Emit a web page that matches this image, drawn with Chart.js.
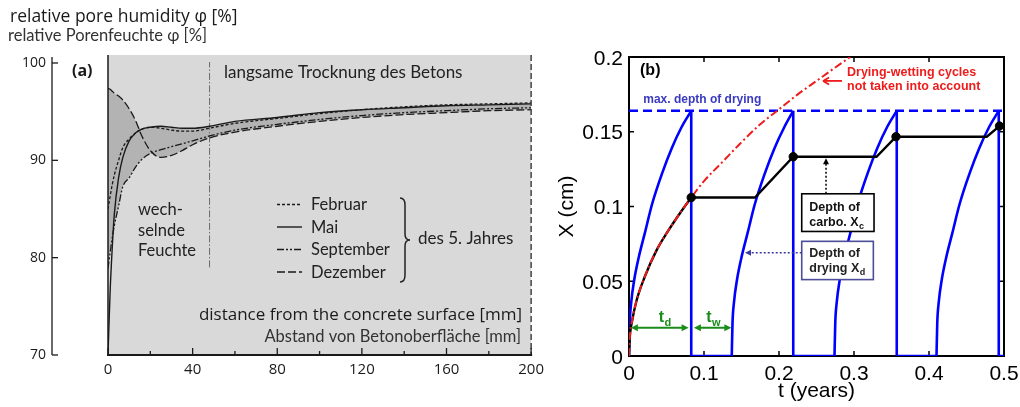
<!DOCTYPE html>
<html lang="de">
<head>
<meta charset="utf-8">
<title>Porenfeuchte / Carbonation depth</title>
<script src="https://cdn.jsdelivr.net/npm/chart.js@4.4.1/dist/chart.umd.min.js"></script>
<style>
  html, body { margin: 0; padding: 0; background: #fff; }
  #wrap { position: relative; width: 1020px; height: 407px; overflow: hidden; }
  .panel { position: absolute; top: 0; height: 407px; }
  #panelA { left: 0; width: 550px; }
  #panelB { left: 550px; width: 470px; }
</style>
</head>
<body>
<div id="wrap">
  <div class="panel" id="panelA"><canvas id="humidity"></canvas></div>
  <div class="panel" id="panelB"><canvas id="carbo"></canvas></div>
</div>
<script>
(function () {
  "use strict";

  // ---- panel (a): pore humidity profiles, 5th year -----------------------
  var depthMm      = [0, 1, 2, 3, 5, 7, 10, 13, 16, 20, 25, 30, 35, 40, 48, 60, 80, 100, 120, 140, 160, 180, 200];
  var phiFebruar   = [85.0, 86.3, 87.5, 88.5, 90.0, 91.3, 92.2, 92.8, 93.2, 93.4, 93.3, 93.1, 93.0, 93.0, 93.3, 93.8, 94.3, 94.8, 95.2, 95.5, 95.7, 95.8, 95.9];
  var phiMai       = [70.0, 76.5, 81.0, 84.5, 88.2, 90.3, 92.0, 92.8, 93.2, 93.4, 93.5, 93.4, 93.3, 93.3, 93.5, 94.0, 94.4, 94.9, 95.2, 95.4, 95.6, 95.7, 95.8];
  var phiSeptember = [78.9, 80.5, 82.0, 83.3, 85.3, 87.3, 88.2, 89.3, 90.1, 90.7, 91.1, 91.4, 91.7, 92.0, 92.5, 93.1, 93.7, 94.2, 94.6, 94.9, 95.1, 95.3, 95.4];
  var phiDezember  = [97.4, 97.3, 97.1, 96.9, 96.6, 96.2, 95.3, 94.1, 92.5, 91.0, 90.3, 90.5, 91.0, 91.6, 92.3, 92.9, 93.5, 94.0, 94.4, 94.7, 94.9, 95.1, 95.2];

  var monthNames  = ["Februar", "Mai", "September", "Dezember"];
  var phiTicks    = [70, 80, 90, 100];
  var depthTicks  = [0, 20, 40, 60, 80, 100, 120, 140, 160, 180, 200];
  var depthLabels = [0, 40, 80, 120, 160, 200];
  var dividerDepth = [48, 48];
  var dividerPhi   = [79, 100.1];

  // ---- panel (b): depth of drying / depth of carbonation -----------------
  var dryX  = [0, 0.022, 0.036, 0.051, 0.066, 0.082, 0.102, 0.122, 0.139, 0.153, 0.164];
  var dryT1 = [0, 0.001, 0.003, 0.007, 0.013, 0.021, 0.031, 0.044, 0.057, 0.070, 0.083];
  var dryT2 = [0.137, 0.138, 0.140, 0.144, 0.150, 0.158, 0.168, 0.181, 0.194, 0.207, 0.219];
  var dryT3 = [0.274, 0.275, 0.277, 0.281, 0.287, 0.295, 0.305, 0.318, 0.331, 0.344, 0.357];
  var dryT4 = [0.410, 0.411, 0.413, 0.417, 0.423, 0.431, 0.441, 0.454, 0.467, 0.480, 0.493];
  var dryEnd   = [0.083, 0.219, 0.357, 0.493];
  var wetEnd   = [0.137, 0.274, 0.410, 0.5];
  var maxDepth = 0.164;

  var redT = [0, 0.001, 0.004, 0.010, 0.021, 0.037, 0.050, 0.070, 0.083, 0.100, 0.125, 0.150, 0.175, 0.200, 0.225, 0.250, 0.275, 0.295];
  var redX = [0, 0.012, 0.023, 0.037, 0.053, 0.071, 0.082, 0.097, 0.106, 0.117, 0.130, 0.143, 0.155, 0.165, 0.175, 0.184, 0.193, 0.200];

  var carboT = [0, 0.001, 0.004, 0.010, 0.021, 0.037, 0.050, 0.070, 0.083];
  var carboX = [0, 0.012, 0.023, 0.037, 0.053, 0.071, 0.082, 0.097, 0.106];
  var stepT  = [0.083, 0.168, 0.219, 0.330, 0.356, 0.477, 0.494, 0.500];
  var stepX  = [0.106, 0.106, 0.1333, 0.1333, 0.1467, 0.1467, 0.1538, 0.1525];
  var dotT   = [0.083, 0.219, 0.356, 0.494];
  var dotX   = [0.106, 0.1333, 0.1467, 0.1538];

  var tTicks = [0, 0.1, 0.2, 0.3, 0.4, 0.5];
  var xTicks = [0, 0.05, 0.1, 0.15, 0.2];

  // ---- shared bits -------------------------------------------------------
  var INK = "#1a1a1a";
  var SANS = '"Open Sans", "DejaVu Sans", sans-serif';
  var TEX = 'Lato, "Open Sans", sans-serif';
  var ARIAL = '"Liberation Sans", Arial, sans-serif';
  var BLUE = "#0000ff";
  var RED = "#ee1c1c";
  var GREEN = "#1a8c1a";

  var monthStyle = {
    Februar:   { dash: [3, 2], width: 1.3 },
    Mai:       { dash: [], width: 1.4 },
    September: { dash: [7, 2, 2, 2, 2, 2], width: 1.3 },
    Dezember:  { dash: [8, 3], width: 1.3 }
  };

  function pts(xs, ys) {
    return xs.map(function (x, i) { return { x: x, y: ys[i] }; });
  }

  function say(ctx, str, x, y, font, color, align, baseline) {
    ctx.font = font;
    ctx.fillStyle = color || INK;
    ctx.textAlign = align || "left";
    ctx.textBaseline = baseline || "alphabetic";
    ctx.fillText(str, x, y);
  }

  function sayWithSub(ctx, main, sub, x, y, size, color, bold) {
    var w = bold ? "bold " : "";
    say(ctx, main, x, y, w + size + "px " + ARIAL, color, "left", "alphabetic");
    var mw = ctx.measureText(main).width;
    say(ctx, sub, x + mw + 0.5, y + size * 0.25, w + Math.round(size * 0.68) + "px " + ARIAL, color, "left", "alphabetic");
  }

  function seg(ctx, x1, y1, x2, y2) {
    ctx.beginPath();
    ctx.moveTo(x1, y1);
    ctx.lineTo(x2, y2);
    ctx.stroke();
  }

  // filled arrow head with its tip at (x, y), pointing along (dx, dy)
  function head(ctx, x, y, dx, dy, size) {
    var len = Math.sqrt(dx * dx + dy * dy);
    dx /= len; dy /= len;
    var nx = -dy, ny = dx;
    ctx.beginPath();
    ctx.moveTo(x, y);
    ctx.lineTo(x - dx * size + nx * size * 0.5, y - dy * size + ny * size * 0.5);
    ctx.lineTo(x - dx * size - nx * size * 0.5, y - dy * size - ny * size * 0.5);
    ctx.closePath();
    ctx.fill();
  }

  var quiet = {
    legend: { display: false },
    tooltip: { enabled: false }
  };

  // ---- panel (a) ---------------------------------------------------------
  var upperEnv = depthMm.map(function (d, i) {
    return { x: d, y: Math.max(phiFebruar[i], phiMai[i], phiDezember[i]) };
  });
  var lowerEnv = depthMm.map(function (d, i) {
    return { x: d, y: Math.min(phiSeptember[i], phiDezember[i]) };
  });
  var monthValues = [phiFebruar, phiMai, phiSeptember, phiDezember];

  var dsA = [
    { data: lowerEnv, borderColor: "rgba(0,0,0,0)", borderWidth: 0, pointRadius: 0,
      fill: false, order: 10, cubicInterpolationMode: "monotone" },
    { data: upperEnv, borderColor: "rgba(0,0,0,0)", borderWidth: 0, pointRadius: 0,
      fill: "-1", backgroundColor: "#b3b3b3", order: 9, cubicInterpolationMode: "monotone" },
    { data: pts(dividerDepth, dividerPhi), borderColor: "#6a6a6a", borderWidth: 1,
      borderDash: [7, 2, 1.5, 2], pointRadius: 0, fill: false, order: 8 }
  ];
  monthNames.forEach(function (m, i) {
    dsA.push({
      label: m,
      data: pts(depthMm, monthValues[i]),
      borderColor: INK,
      borderWidth: monthStyle[m].width,
      borderDash: monthStyle[m].dash,
      pointRadius: 0,
      fill: false,
      cubicInterpolationMode: "monotone",
      order: 4 - i
    });
  });

  var humidityDecor = {
    id: "humidityDecor",
    beforeDraw: function (chart) {
      var a = chart.chartArea, ctx = chart.ctx;
      ctx.save();
      ctx.fillStyle = "#d9d9d9";
      ctx.fillRect(a.left, a.top, a.right - a.left, a.bottom - a.top);
      ctx.restore();
    },
    afterDraw: function (chart) {
      var ctx = chart.ctx, a = chart.chartArea;
      var xs = chart.scales.x, ys = chart.scales.y;
      ctx.save();

      // frame: solid surface edge, dashed far edge, depth axis
      ctx.strokeStyle = INK;
      ctx.lineWidth = 1.5;
      seg(ctx, a.left, a.top, a.left, a.bottom);
      ctx.setLineDash([6, 3]);
      ctx.strokeStyle = "#444";
      seg(ctx, a.right, a.top, a.right, a.bottom);
      ctx.setLineDash([]);
      ctx.strokeStyle = INK;
      ctx.lineWidth = 2;
      seg(ctx, a.left - 1, a.bottom, a.right + 1, a.bottom);

      ctx.lineWidth = 1.3;
      depthTicks.forEach(function (v) {
        var x = xs.getPixelForValue(v);
        var len = depthLabels.indexOf(v) >= 0 ? 7 : 4;
        seg(ctx, x, a.bottom, x, a.bottom - len);
      });

      // humidity axis stands apart from the plot box
      var axX = 52;
      seg(ctx, axX, a.top + 2, axX, a.bottom);
      phiTicks.forEach(function (v) {
        var y = ys.getPixelForValue(v);
        seg(ctx, axX, y, axX + 6, y);
        say(ctx, String(v), axX - 6, y, "14px " + SANS, INK, "right", "middle");
      });

      say(ctx, "relative pore humidity \u03c6 [%]", 10, 22, "17.5px " + SANS, INK);
      say(ctx, "relative Porenfeuchte \u03c6 [%]", 8, 41, "16.5px " + TEX, "#333");
      say(ctx, "(a)", 72, 71, "bold 16px " + SANS, INK, "left", "middle");

      say(ctx, "langsame Trocknung des Betons", 224, 78, "17px " + TEX, "#222");
      say(ctx, "wech-", 138, 215, "16.5px " + TEX, "#222");
      say(ctx, "selnde", 138, 235.5, "16.5px " + TEX, "#222");
      say(ctx, "Feuchte", 138, 256, "16.5px " + TEX, "#222");

      // legend
      var ly = [204.5, 227, 249.5, 272];
      monthNames.forEach(function (m, i) {
        ctx.strokeStyle = INK;
        ctx.lineWidth = monthStyle[m].width;
        ctx.setLineDash(monthStyle[m].dash);
        seg(ctx, 277, ly[i], 302, ly[i]);
        ctx.setLineDash([]);
        say(ctx, m, 311, ly[i] + 5.5, "16.5px " + TEX, "#222");
      });

      // brace grouping the four months
      var bx = 400, bt = 198, bb = 282, bm = (bt + bb) / 2;
      ctx.strokeStyle = "#222";
      ctx.lineWidth = 1.5;
      ctx.beginPath();
      ctx.moveTo(bx, bt);
      ctx.quadraticCurveTo(bx + 5, bt, bx + 5, bt + 7);
      ctx.lineTo(bx + 5, bm - 6);
      ctx.quadraticCurveTo(bx + 5, bm, bx + 10, bm);
      ctx.quadraticCurveTo(bx + 5, bm, bx + 5, bm + 6);
      ctx.lineTo(bx + 5, bb - 7);
      ctx.quadraticCurveTo(bx + 5, bb, bx, bb);
      ctx.stroke();
      say(ctx, "des 5. Jahres", 418, 244, "17px " + TEX, "#222");

      say(ctx, "distance from the concrete surface [mm]", 522, 320, "17px " + SANS, INK, "right");
      say(ctx, "Abstand von Betonoberfl\u00e4che [mm]", 521, 342, "16.5px " + TEX, "#333", "right");

      ctx.restore();
    }
  };

  new Chart(document.getElementById("humidity"), {
    type: "line",
    data: { datasets: dsA },
    options: {
      responsive: true,
      maintainAspectRatio: false,
      animation: false,
      events: [],
      layout: { padding: { left: 108, top: 55, right: 18, bottom: 0 } },
      plugins: quiet,
      scales: {
        x: {
          type: "linear", min: 0, max: 200,
          grid: { display: false, drawTicks: false },
          border: { display: false },
          afterBuildTicks: function (s) {
            s.ticks = depthTicks.map(function (v) { return { value: v }; });
          },
          ticks: {
            autoSkip: false, maxRotation: 0, padding: 6, color: INK,
            font: { family: SANS, size: 15 },
            callback: function (v) { return depthLabels.indexOf(v) >= 0 ? String(v) : ""; }
          },
          afterFit: function (s) { s.height = 52; }
        },
        y: { type: "linear", min: 70, max: 100.82, display: false }
      }
    },
    plugins: [humidityDecor]
  });

  // ---- panel (b) ---------------------------------------------------------
  var dsB = [
    { label: "dots", data: pts(dotT, dotX), showLine: false, pointRadius: 4.2,
      pointBackgroundColor: "#000", pointBorderColor: "#000", order: 0 },
    { label: "no cycles", data: pts(redT, redX), borderColor: RED, borderWidth: 2,
      borderDash: [8, 3, 2, 3], pointRadius: 0, cubicInterpolationMode: "monotone", order: 1 },
    { label: "Xc", data: pts(carboT, carboX), borderColor: "#000", borderWidth: 2.4,
      pointRadius: 0, cubicInterpolationMode: "monotone", order: 2 },
    { label: "Xc steps", data: pts(stepT, stepX), borderColor: "#000", borderWidth: 2.4,
      pointRadius: 0, tension: 0, order: 2 },
    { label: "max", data: pts([0, 0.5], [maxDepth, maxDepth]), borderColor: BLUE, borderWidth: 2.4,
      borderDash: [9, 5], pointRadius: 0, order: 5 }
  ];
  [dryT1, dryT2, dryT3, dryT4].forEach(function (tt, i) {
    dsB.push({ label: "Xd " + (i + 1), data: pts(tt, dryX), borderColor: BLUE, borderWidth: 2.6,
      pointRadius: 0, cubicInterpolationMode: "monotone", order: 3 });
    dsB.push({ label: "wet " + (i + 1),
      data: pts([dryEnd[i], dryEnd[i], wetEnd[i]], [maxDepth, 0, 0]),
      borderColor: BLUE, borderWidth: 2.6, pointRadius: 0, tension: 0, order: 3 });
  });

  var carboDecor = {
    id: "carboDecor",
    beforeDatasetsDraw: function (chart) {
      var ctx = chart.ctx, a = chart.chartArea;
      var xs = chart.scales.x, ys = chart.scales.y;
      var tickFont = "21px " + ARIAL;
      ctx.save();
      ctx.strokeStyle = "#000";
      ctx.lineWidth = 2;
      ctx.strokeRect(a.left, a.top, a.right - a.left, a.bottom - a.top);
      ctx.lineWidth = 1.5;
      tTicks.forEach(function (v) {
        var x = xs.getPixelForValue(v);
        seg(ctx, x, a.bottom, x, a.bottom - 5);
        seg(ctx, x, a.top, x, a.top + 5);
        say(ctx, String(v), x, a.bottom + 24, tickFont, "#000", "center", "alphabetic");
      });
      xTicks.forEach(function (v) {
        var y = ys.getPixelForValue(v);
        seg(ctx, a.left, y, a.left + 5, y);
        seg(ctx, a.right, y, a.right - 5, y);
        say(ctx, String(v), a.left - 6, y + 7.5, tickFont, "#000", "right", "alphabetic");
      });
      ctx.restore();
    },
    afterDraw: function (chart) {
      var ctx = chart.ctx;
      var xs = chart.scales.x, ys = chart.scales.y;
      function px(t) { return xs.getPixelForValue(t); }
      function py(X) { return ys.getPixelForValue(X); }
      ctx.save();

      say(ctx, "(b)", px(0.0147), py(0.1878), "bold 16px " + ARIAL, "#000");
      say(ctx, "max. depth of drying", px(0.019), py(0.1693), "bold 12px " + ARIAL, "#3a3ac0");

      // curve without drying-wetting cycles
      say(ctx, "Drying-wetting cycles", px(0.2907), py(0.1876), "bold 12.5px " + ARIAL, RED);
      say(ctx, "not taken into account", px(0.2907), py(0.1778), "bold 12.5px " + ARIAL, RED);
      ctx.strokeStyle = RED;
      ctx.lineWidth = 1.8;
      var ay = py(0.184);
      seg(ctx, px(0.284), ay, px(0.2587), ay);
      seg(ctx, px(0.2587), ay, px(0.2587) + 6, ay - 3.5);
      seg(ctx, px(0.2587), ay, px(0.2587) + 6, ay + 3.5);

      // carbonation depth box + arrow
      var bl = px(0.2303), br = px(0.3267);
      ctx.fillStyle = "#fff";
      ctx.fillRect(bl, py(0.1085), br - bl, py(0.0833) - py(0.1085));
      ctx.strokeStyle = "#000";
      ctx.lineWidth = 1.6;
      ctx.strokeRect(bl, py(0.1085), br - bl, py(0.0833) - py(0.1085));
      say(ctx, "Depth of", px(0.2404), py(0.0973), "bold 12.5px " + ARIAL, "#111");
      sayWithSub(ctx, "carbo. X", "c", px(0.2404), py(0.0871), 12.5, "#111", true);
      ctx.setLineDash([2, 2]);
      ctx.lineWidth = 1.5;
      seg(ctx, px(0.2627), py(0.1085), px(0.2627), py(0.1305));
      ctx.setLineDash([]);
      ctx.fillStyle = "#000";
      head(ctx, px(0.2627), py(0.1322), 0, -1, 6);

      // drying depth box + arrow
      var dbr = px(0.3258);
      ctx.fillStyle = "#fff";
      ctx.fillRect(bl, py(0.0767), dbr - bl, py(0.0511) - py(0.0767));
      ctx.strokeStyle = "#4d4d99";
      ctx.lineWidth = 1.6;
      ctx.strokeRect(bl, py(0.0767), dbr - bl, py(0.0511) - py(0.0767));
      say(ctx, "Depth of", px(0.2404), py(0.0663), "bold 12.5px " + ARIAL, "#222");
      sayWithSub(ctx, "drying X", "d", px(0.2404), py(0.056), 12.5, "#222", true);
      ctx.strokeStyle = "#3a3aa0";
      ctx.setLineDash([2, 2]);
      ctx.lineWidth = 1.5;
      seg(ctx, bl, py(0.069), px(0.1585), py(0.069));
      ctx.setLineDash([]);
      ctx.fillStyle = "#3a3aa0";
      head(ctx, px(0.1547), py(0.069), -1, 0, 6);

      // drying and wetting periods
      var gy = py(0.0189);
      ctx.strokeStyle = GREEN;
      ctx.fillStyle = GREEN;
      ctx.lineWidth = 2;
      seg(ctx, px(0.0025) + 4, gy, px(0.0795) - 4, gy);
      head(ctx, px(0.0025), gy, -1, 0, 7);
      head(ctx, px(0.0795), gy, 1, 0, 7);
      seg(ctx, px(0.0865) + 4, gy, px(0.1365) - 4, gy);
      head(ctx, px(0.0865), gy, -1, 0, 7);
      head(ctx, px(0.1365), gy, 1, 0, 7);
      sayWithSub(ctx, "t", "d", px(0.0395), py(0.0227), 16, GREEN, true);
      sayWithSub(ctx, "t", "w", px(0.1030), py(0.0227), 16, GREEN, true);

      ctx.restore();
    }
  };

  new Chart(document.getElementById("carbo"), {
    type: "line",
    data: { datasets: dsB },
    options: {
      responsive: true,
      maintainAspectRatio: false,
      animation: false,
      events: [],
      layout: { padding: { left: 0, top: 57, right: 16, bottom: 0 } },
      plugins: quiet,
      scales: {
        x: {
          type: "linear", min: 0, max: 0.5,
          grid: { display: false, drawTicks: false },
          border: { display: false },
          afterBuildTicks: function (s) {
            s.ticks = tTicks.map(function (v) { return { value: v }; });
          },
          ticks: { display: false },
          title: {
            display: true, text: "t (years)", color: "#000",
            font: { family: ARIAL, size: 21 }, padding: { top: 0, bottom: 3 }
          },
          afterFit: function (s) { s.height = 51; }
        },
        y: {
          type: "linear", min: 0, max: 0.2,
          grid: { display: false, drawTicks: false },
          border: { display: false },
          afterBuildTicks: function (s) {
            s.ticks = xTicks.map(function (v) { return { value: v }; });
          },
          ticks: { display: false },
          title: {
            display: true, text: "X (cm)", color: "#000",
            font: { family: ARIAL, size: 21 }, padding: { top: 5, bottom: 0 }
          },
          afterFit: function (s) { s.width = 79; }
        }
      }
    },
    plugins: [carboDecor]
  });
})();
</script>
</body>
</html>
